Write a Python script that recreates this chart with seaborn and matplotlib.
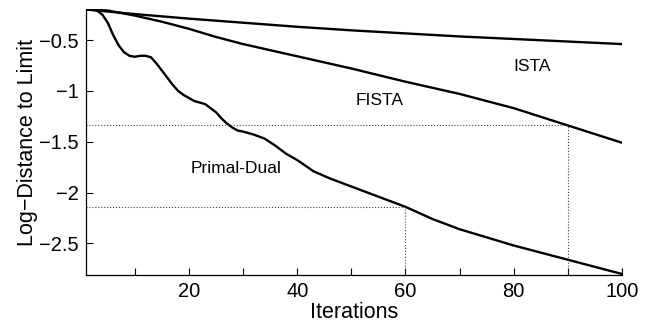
import matplotlib
matplotlib.use("Agg")
import matplotlib.pyplot as plt
import seaborn as sns
import pandas as pd

# values
ista_x = [1, 10, 20, 30, 40, 50, 60, 70, 80, 90, 100]
ista_y = [-0.20, -0.245, -0.29, -0.33, -0.37, -0.405, -0.435, -0.465, -0.49, -0.515, -0.54]

fista_x = [1, 5, 10, 15, 20, 25, 30, 35, 40, 50, 60, 70, 80, 90, 100]
fista_y = [-0.20, -0.21, -0.26, -0.32, -0.39, -0.47, -0.54, -0.60, -0.66, -0.78, -0.91,
           -1.03, -1.17, -1.34, -1.51]

pd_x = [1, 2, 3, 4, 5, 6, 7, 8, 9, 10, 11, 12, 13, 14, 15, 16, 17, 18, 19, 20,
        21, 22, 23, 24, 25, 26, 27, 28, 29, 30, 32, 34, 36, 38, 40, 43, 46, 50,
        55, 60, 65, 70, 75, 80, 85, 90, 95, 100]
pd_y = [-0.20, -0.20, -0.21, -0.25, -0.33, -0.45, -0.55, -0.62, -0.655, -0.665,
        -0.655, -0.655, -0.67, -0.73, -0.80, -0.87, -0.94, -1.00, -1.04, -1.07,
        -1.10, -1.115, -1.13, -1.17, -1.21, -1.27, -1.32, -1.36, -1.39, -1.40,
        -1.43, -1.47, -1.54, -1.62, -1.68, -1.79, -1.86, -1.94, -2.04, -2.14,
        -2.26, -2.36, -2.44, -2.52, -2.59, -2.66, -2.73, -2.80]

# iteration counts where FISTA / Primal-Dual reach a given level
fista_mark = (90, -1.34)
pd_mark = (60, -2.14)

labels = {"ISTA": (83.4, -0.765), "FISTA": (55.2, -1.09), "Primal-Dual": (28.7, -1.76)}

sns.set_style("ticks", {"text.color": "black", "axes.labelcolor": "black",
                        "xtick.color": "black", "ytick.color": "black",
                        "axes.edgecolor": "black"})
plt.rcParams['font.family'] = ['Liberation Sans', 'DejaVu Sans']

fig = plt.figure(figsize=(6.52, 3.27), dpi=100)
ax = fig.add_axes([0.132, 0.159, 0.822, 0.812])

ymin, ymax = -2.81, -0.2

for xs, ys in [(ista_x, ista_y), (fista_x, fista_y), (pd_x, pd_y)]:
    df = pd.DataFrame({"it": xs, "val": ys})
    sns.lineplot(data=df, x="it", y="val", ax=ax, color="black", linewidth=1.7,
                 sort=False)

for mx, my in [fista_mark, pd_mark]:
    ax.plot([1, mx], [my, my], ls=":", color="#444444", lw=0.8)
    ax.plot([mx, mx], [ymin, my], ls=":", color="#444444", lw=0.8)

for name, (tx, ty) in labels.items():
    ax.text(tx, ty, name, ha="center", va="center", fontsize=12.5, color="black")

ax.set_xlim(1, 100)
ax.set_ylim(ymin, ymax)
ax.set_xticks(range(10, 101, 10))
ax.set_xticklabels(["" if t % 20 else str(t) for t in range(10, 101, 10)])
ax.set_yticks([-2.5, -2, -1.5, -1, -0.5])
ax.set_yticklabels(["\u22122.5", "\u22122", "\u22121.5", "\u22121", "\u22120.5"])
ax.tick_params(direction="in", length=5, width=0.8, labelsize=14.5, pad=5)
ax.set_xlabel("Iterations", fontsize=15.5, labelpad=1)
ax.set_ylabel("Log\u2212Distance to Limit", fontsize=15.5, labelpad=1)
sns.despine(ax=ax)
for s in ["left", "bottom"]:
    ax.spines[s].set_linewidth(0.9)

fig.savefig("out.png", dpi=100)
